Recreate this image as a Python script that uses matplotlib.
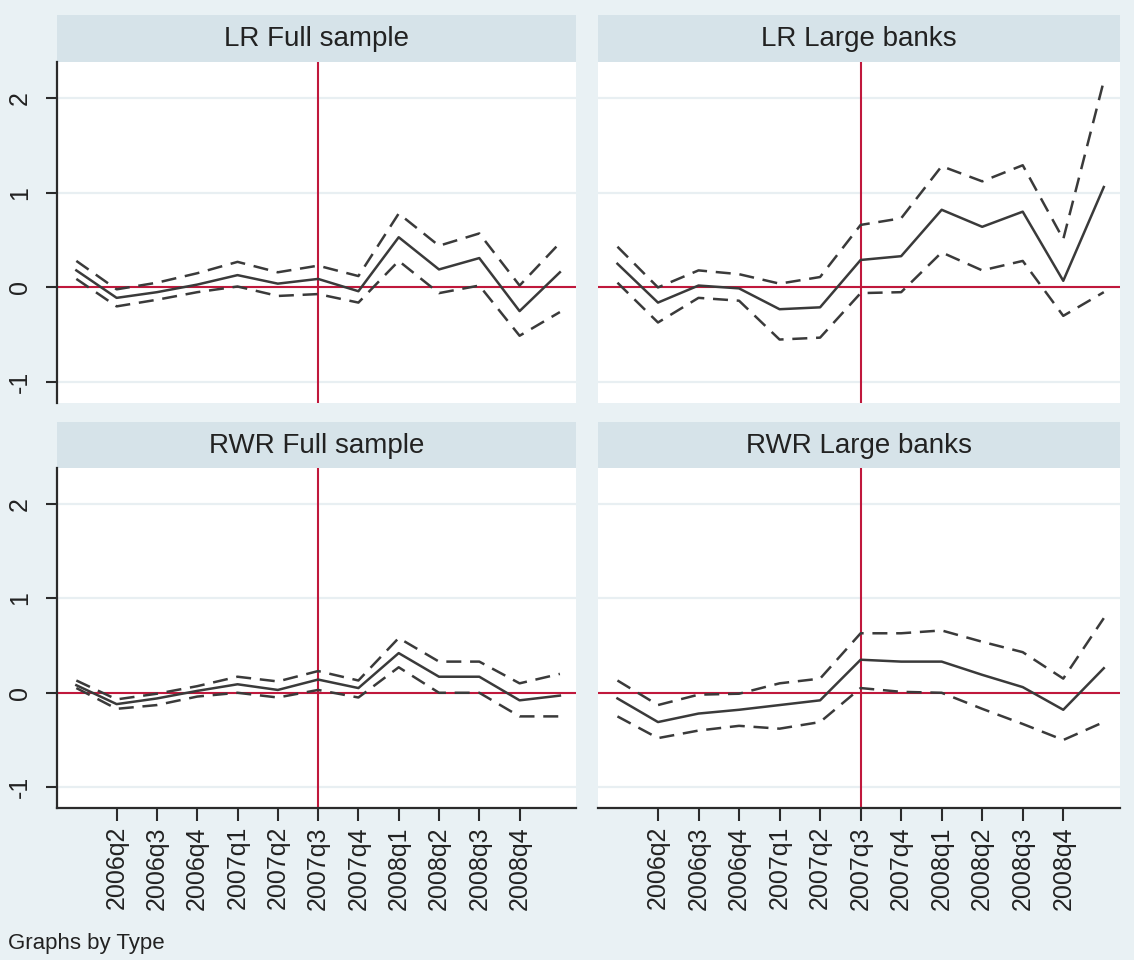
import matplotlib
matplotlib.use("Agg")
import matplotlib.pyplot as plt

# ---- data -------------------------------------------------------------
quarters = ['2006q1', '2006q2', '2006q3', '2006q4', '2007q1', '2007q2', '2007q3',
            '2007q4', '2008q1', '2008q2', '2008q3', '2008q4', '2009q1']
tick_labels = ['2006q2', '2006q3', '2006q4', '2007q1', '2007q2', '2007q3',
               '2007q4', '2008q1', '2008q2', '2008q3', '2008q4']
panel_titles = ['LR Full sample', 'LR Large banks', 'RWR Full sample', 'RWR Large banks']
break_quarter = '2007q3'

lr_full_mid = [0.18, -0.11, -0.05, 0.03, 0.13, 0.04, 0.09, -0.04, 0.53, 0.19, 0.31, -0.25, 0.16]
lr_full_up = [0.28, -0.02, 0.05, 0.15, 0.27, 0.16, 0.23, 0.12, 0.78, 0.44, 0.57, 0.02, 0.47]
lr_full_lo = [0.09, -0.20, -0.13, -0.05, 0.01, -0.09, -0.07, -0.16, 0.28, -0.06, 0.02, -0.51, -0.26]

lr_large_mid = [0.25, -0.16, 0.02, -0.01, -0.23, -0.21, 0.29, 0.33, 0.82, 0.64, 0.80, 0.07, 1.06]
lr_large_up = [0.43, 0.00, 0.18, 0.14, 0.04, 0.11, 0.66, 0.73, 1.28, 1.12, 1.29, 0.51, 2.18]
lr_large_lo = [0.05, -0.37, -0.11, -0.14, -0.55, -0.53, -0.06, -0.05, 0.37, 0.18, 0.28, -0.30, -0.05]

rwr_full_mid = [0.08, -0.12, -0.06, 0.02, 0.09, 0.03, 0.14, 0.05, 0.42, 0.17, 0.17, -0.08, -0.03]
rwr_full_up = [0.13, -0.07, -0.01, 0.07, 0.17, 0.12, 0.23, 0.13, 0.58, 0.33, 0.33, 0.10, 0.20]
rwr_full_lo = [0.05, -0.17, -0.13, -0.04, 0.00, -0.05, 0.03, -0.05, 0.27, 0.00, 0.00, -0.25, -0.25]

rwr_large_mid = [-0.06, -0.31, -0.22, -0.18, -0.13, -0.08, 0.35, 0.33, 0.33, 0.19, 0.06, -0.18, 0.26]
rwr_large_up = [0.13, -0.13, -0.02, -0.01, 0.10, 0.15, 0.63, 0.63, 0.66, 0.54, 0.43, 0.15, 0.79]
rwr_large_lo = [-0.25, -0.48, -0.40, -0.35, -0.38, -0.31, 0.05, 0.01, 0.00, -0.17, -0.33, -0.50, -0.31]

series = [
    (lr_full_mid, lr_full_up, lr_full_lo),
    (lr_large_mid, lr_large_up, lr_large_lo),
    (rwr_full_mid, rwr_full_up, rwr_full_lo),
    (rwr_large_mid, rwr_large_up, rwr_large_lo),
]
yticks = [-1, 0, 1, 2]

# ---- style ------------------------------------------------------------
W, H = 1134, 960
BG = '#e9f1f4'
HEAD = '#d6e3e9'
GRID = '#e8eff2'
RED = '#c0183c'
LINE = '#3a3a3a'
AX = '#2b2b2b'
plt.rcParams['font.family'] = ['Liberation Sans', 'DejaVu Sans']

fig = plt.figure(figsize=(W / 100, H / 100), dpi=100, facecolor=BG)


def rect(x0, y0, x1, y1):
    return [x0 / W, 1 - y1 / H, (x1 - x0) / W, (y1 - y0) / H]


cols = [(57, 576), (598, 1120)]
rows = [((15, 62), (62, 403)), ((422, 468), (468, 808))]

xs = list(range(len(quarters)))
tick_pos = [quarters.index(t) for t in tick_labels]
vx = quarters.index(break_quarter)

for i, title in enumerate(panel_titles):
    r, c = divmod(i, 2)
    (hy0, hy1), (py0, py1) = rows[r]
    x0, x1 = cols[c]

    hax = fig.add_axes(rect(x0, hy0, x1, hy1))
    hax.set_facecolor(HEAD)
    hax.set_xticks([]); hax.set_yticks([])
    for s in hax.spines.values():
        s.set_visible(False)
    hax.text(0.5, 0.48, title, ha='center', va='center', fontsize=20,
             color='#222222', transform=hax.transAxes)

    ax = fig.add_axes(rect(x0, py0, x1, py1))
    ax.set_facecolor('white')
    mid, up, lo = series[i]
    for y in yticks:
        ax.axhline(y, color=GRID, lw=1.6, zorder=0)
    ax.axhline(0, color=RED, lw=1.5, zorder=1)
    ax.axvline(vx, color=RED, lw=1.5, zorder=1)
    ax.plot(xs, up, color=LINE, lw=1.8, dashes=(6, 3.5), zorder=2)
    ax.plot(xs, lo, color=LINE, lw=1.8, dashes=(6, 3.5), zorder=2)
    ax.plot(xs, mid, color=LINE, lw=1.8, zorder=3)
    ax.set_xlim(-0.48, 12.4)
    ax.set_ylim(-1.22, 2.38)

    for s in ax.spines.values():
        s.set_visible(False)
    if c == 0:
        ax.spines['left'].set_visible(True)
        ax.spines['left'].set_color(AX)
        ax.spines['left'].set_linewidth(1.6)
        ax.set_yticks(yticks)
        ax.set_yticklabels([str(v) for v in yticks], rotation=90, va='center',
                           fontsize=18, color='#222222')
        ax.tick_params(axis='y', length=8, width=1.5, color=AX, pad=10)
    else:
        ax.set_yticks([])
    if r == 1:
        ax.spines['bottom'].set_visible(True)
        ax.spines['bottom'].set_color(AX)
        ax.spines['bottom'].set_linewidth(1.6)
        ax.set_xticks(tick_pos)
        ax.set_xticklabels(tick_labels, rotation=90, fontsize=18, color='#222222')
        ax.tick_params(axis='x', length=9, width=1.5, color=AX, pad=4)
    else:
        ax.set_xticks([])

fig.text(8 / W, 1 - 944 / H, 'Graphs by Type', fontsize=16, color='#222222',
         ha='left', va='center')

fig.savefig('out.png', dpi=100, facecolor=BG)
